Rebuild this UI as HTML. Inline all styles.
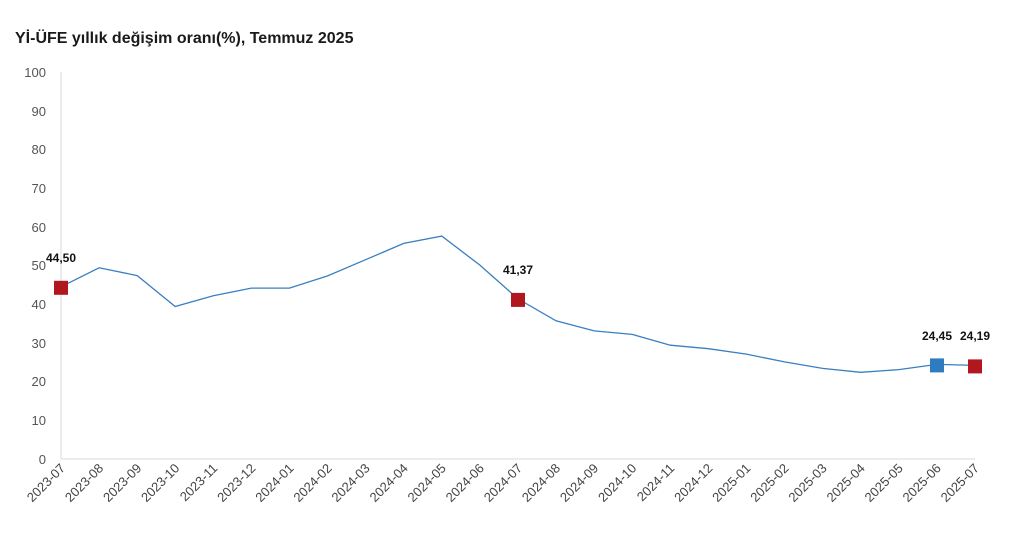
<!DOCTYPE html>
<html><head><meta charset="utf-8"><style>
body{margin:0;background:#fff;}
svg text{font-family:"Liberation Sans","DejaVu Sans",sans-serif;}
</style></head><body>
<svg width="1027" height="549" xmlns="http://www.w3.org/2000/svg">
<text x="15" y="43" font-size="16" font-weight="bold" fill="#1a1a1a">Yİ-ÜFE yıllık değişim oranı(%), Temmuz 2025</text>
<g font-size="13" fill="#555" text-anchor="end">
<text x="46" y="464">0</text><text x="46" y="425">10</text><text x="46" y="386">20</text><text x="46" y="348">30</text><text x="46" y="309">40</text><text x="46" y="270">50</text><text x="46" y="232">60</text><text x="46" y="193">70</text><text x="46" y="154">80</text><text x="46" y="116">90</text><text x="46" y="77">100</text>
</g>
<line x1="61" y1="72" x2="61" y2="459" stroke="#d9d9d9"/>
<line x1="61" y1="459" x2="975" y2="459" stroke="#d9d9d9"/>
<g font-size="13" fill="#444" text-anchor="end">
<text transform="translate(66,469) rotate(-45)">2023-07</text>
<text transform="translate(104.1,469) rotate(-45)">2023-08</text>
<text transform="translate(142.2,469) rotate(-45)">2023-09</text>
<text transform="translate(180.2,469) rotate(-45)">2023-10</text>
<text transform="translate(218.3,469) rotate(-45)">2023-11</text>
<text transform="translate(256.4,469) rotate(-45)">2023-12</text>
<text transform="translate(294.5,469) rotate(-45)">2024-01</text>
<text transform="translate(332.6,469) rotate(-45)">2024-02</text>
<text transform="translate(370.6,469) rotate(-45)">2024-03</text>
<text transform="translate(408.7,469) rotate(-45)">2024-04</text>
<text transform="translate(446.8,469) rotate(-45)">2024-05</text>
<text transform="translate(484.9,469) rotate(-45)">2024-06</text>
<text transform="translate(523,469) rotate(-45)">2024-07</text>
<text transform="translate(561,469) rotate(-45)">2024-08</text>
<text transform="translate(599.1,469) rotate(-45)">2024-09</text>
<text transform="translate(637.2,469) rotate(-45)">2024-10</text>
<text transform="translate(675.3,469) rotate(-45)">2024-11</text>
<text transform="translate(713.4,469) rotate(-45)">2024-12</text>
<text transform="translate(751.4,469) rotate(-45)">2025-01</text>
<text transform="translate(789.5,469) rotate(-45)">2025-02</text>
<text transform="translate(827.6,469) rotate(-45)">2025-03</text>
<text transform="translate(865.7,469) rotate(-45)">2025-04</text>
<text transform="translate(903.8,469) rotate(-45)">2025-05</text>
<text transform="translate(941.8,469) rotate(-45)">2025-06</text>
<text transform="translate(979.9,469) rotate(-45)">2025-07</text>
</g>
<polyline fill="none" stroke="#3a7fc0" stroke-width="1.3" points="61,286.8 99.1,267.8 137.2,275.6 175.2,306.5 213.3,295.7 251.4,288.1 289.5,288.1 327.6,275.9 365.6,259.7 403.7,243.4 441.8,236.1 479.9,265.1 518,298.9 556,320.8 594.1,330.9 632.2,334.4 670.3,345.2 708.4,348.7 746.4,354.1 784.5,361.9 822.6,368.4 860.7,372.3 898.8,369.6 936.8,364.4 974.9,365.4"/>
<rect x="54" y="280.8" width="14" height="14" fill="#b0171f"/>
<rect x="511" y="292.9" width="14" height="14" fill="#b0171f"/>
<rect x="930" y="358.4" width="14" height="14" fill="#2e7bbf"/>
<rect x="968" y="359.4" width="14" height="14" fill="#b0171f"/>
<g font-size="12" font-weight="bold" fill="#111" text-anchor="middle">
<text x="61" y="262">44,50</text><text x="518" y="274">41,37</text><text x="937" y="340">24,45</text><text x="975" y="340">24,19</text>
</g>
</svg>
</body></html>
